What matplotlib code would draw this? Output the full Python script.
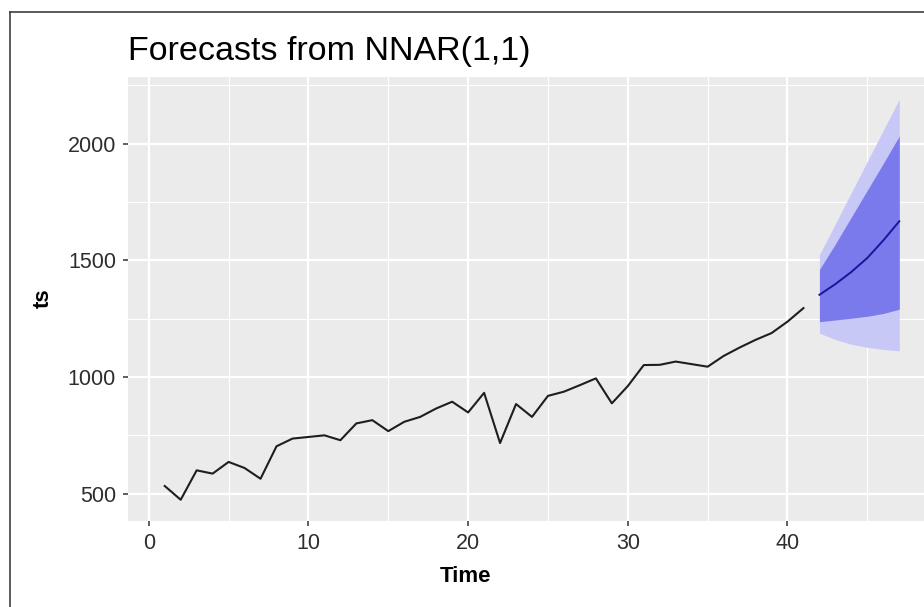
import matplotlib
matplotlib.use("Agg")
import matplotlib.pyplot as plt
from matplotlib.lines import Line2D

# observed series, t = 1..41
time_obs = list(range(1, 42))
ts_obs = [533, 474, 600, 586, 636, 610, 564, 703, 736, 743,
          750, 729, 801, 815, 768, 808, 829, 865, 894, 848,
          932, 717, 884, 829, 919, 937, 965, 994, 887, 961,
          1051, 1052, 1066, 1055, 1044, 1090, 1126, 1159, 1188, 1237,
          1295]

# NNAR forecast, t = 42..47
time_fc = [42, 43, 44, 45, 46, 47]
fc_mean = [1352, 1398, 1450, 1510, 1585, 1667]
lo80 = [1237, 1244, 1252, 1260, 1272, 1290]
hi80 = [1460, 1570, 1685, 1800, 1915, 2032]
lo95 = [1188, 1160, 1140, 1127, 1118, 1112]
hi95 = [1524, 1657, 1790, 1924, 2057, 2190]

xticks = [0, 10, 20, 30, 40]
yticks = [500, 1000, 1500, 2000]

plt.rcParams['font.family'] = ['Liberation Sans', 'DejaVu Sans']

W, H = 924, 607
fig = plt.figure(figsize=(W / 100, H / 100), dpi=100)
fig.patch.set_facecolor("white")

# panel spans past the right edge, the source picture was cropped there
ax = fig.add_axes([128 / W, (H - 521) / H, (936 - 128) / W, (521 - 77) / H])
ax.set_facecolor("#EBEBEB")
for s in ax.spines.values():
    s.set_visible(False)

ax.set_xlim(-1.3, 49.3)
ax.set_ylim(383, 2285)

ax.set_xticks(xticks)
ax.set_yticks(yticks)
ax.set_xticks([5, 15, 25, 35, 45], minor=True)
ax.set_yticks([750, 1250, 1750, 2250], minor=True)
ax.grid(which="major", color="white", linewidth=1.6)
ax.grid(which="minor", color="white", linewidth=0.8)
ax.set_axisbelow(True)
ax.tick_params(which="major", length=3.6, width=1.1, color="#333333",
               labelsize=15.5, labelcolor="#2E2E2E", pad=5)
ax.tick_params(which="minor", length=0)

ax.fill_between(time_fc, lo95, hi95, color="#C8C8F6", linewidth=0)
ax.fill_between(time_fc, lo80, hi80, color="#7A7AEC", linewidth=0)
ax.plot(time_fc, fc_mean, color="#17179C", linewidth=1.4)
ax.plot(time_obs, ts_obs, color="#1E1E1E", linewidth=1.5)

fig.text(128 / W, 1 - 60 / H, "Forecasts from NNAR(1,1)", fontsize=24.5,
         color="black", ha="left", va="baseline")
fig.text(465 / W, 1 - 576 / H, "Time", fontsize=16, fontweight="bold",
         ha="center", va="center")
fig.text(43 / W, 1 - 298 / H, "ts", fontsize=16, fontweight="bold",
         rotation=90, ha="center", va="center")

# outer frame (left and top edges only show in the source)
fig.add_artist(Line2D([10 / W, 10 / W], [0, 1 - 12 / H], transform=fig.transFigure,
                      color="#404040", linewidth=1.2))
fig.add_artist(Line2D([10 / W, 1], [1 - 12 / H, 1 - 12 / H], transform=fig.transFigure,
                      color="#404040", linewidth=1.2))

fig.savefig("out.png", dpi=100)
